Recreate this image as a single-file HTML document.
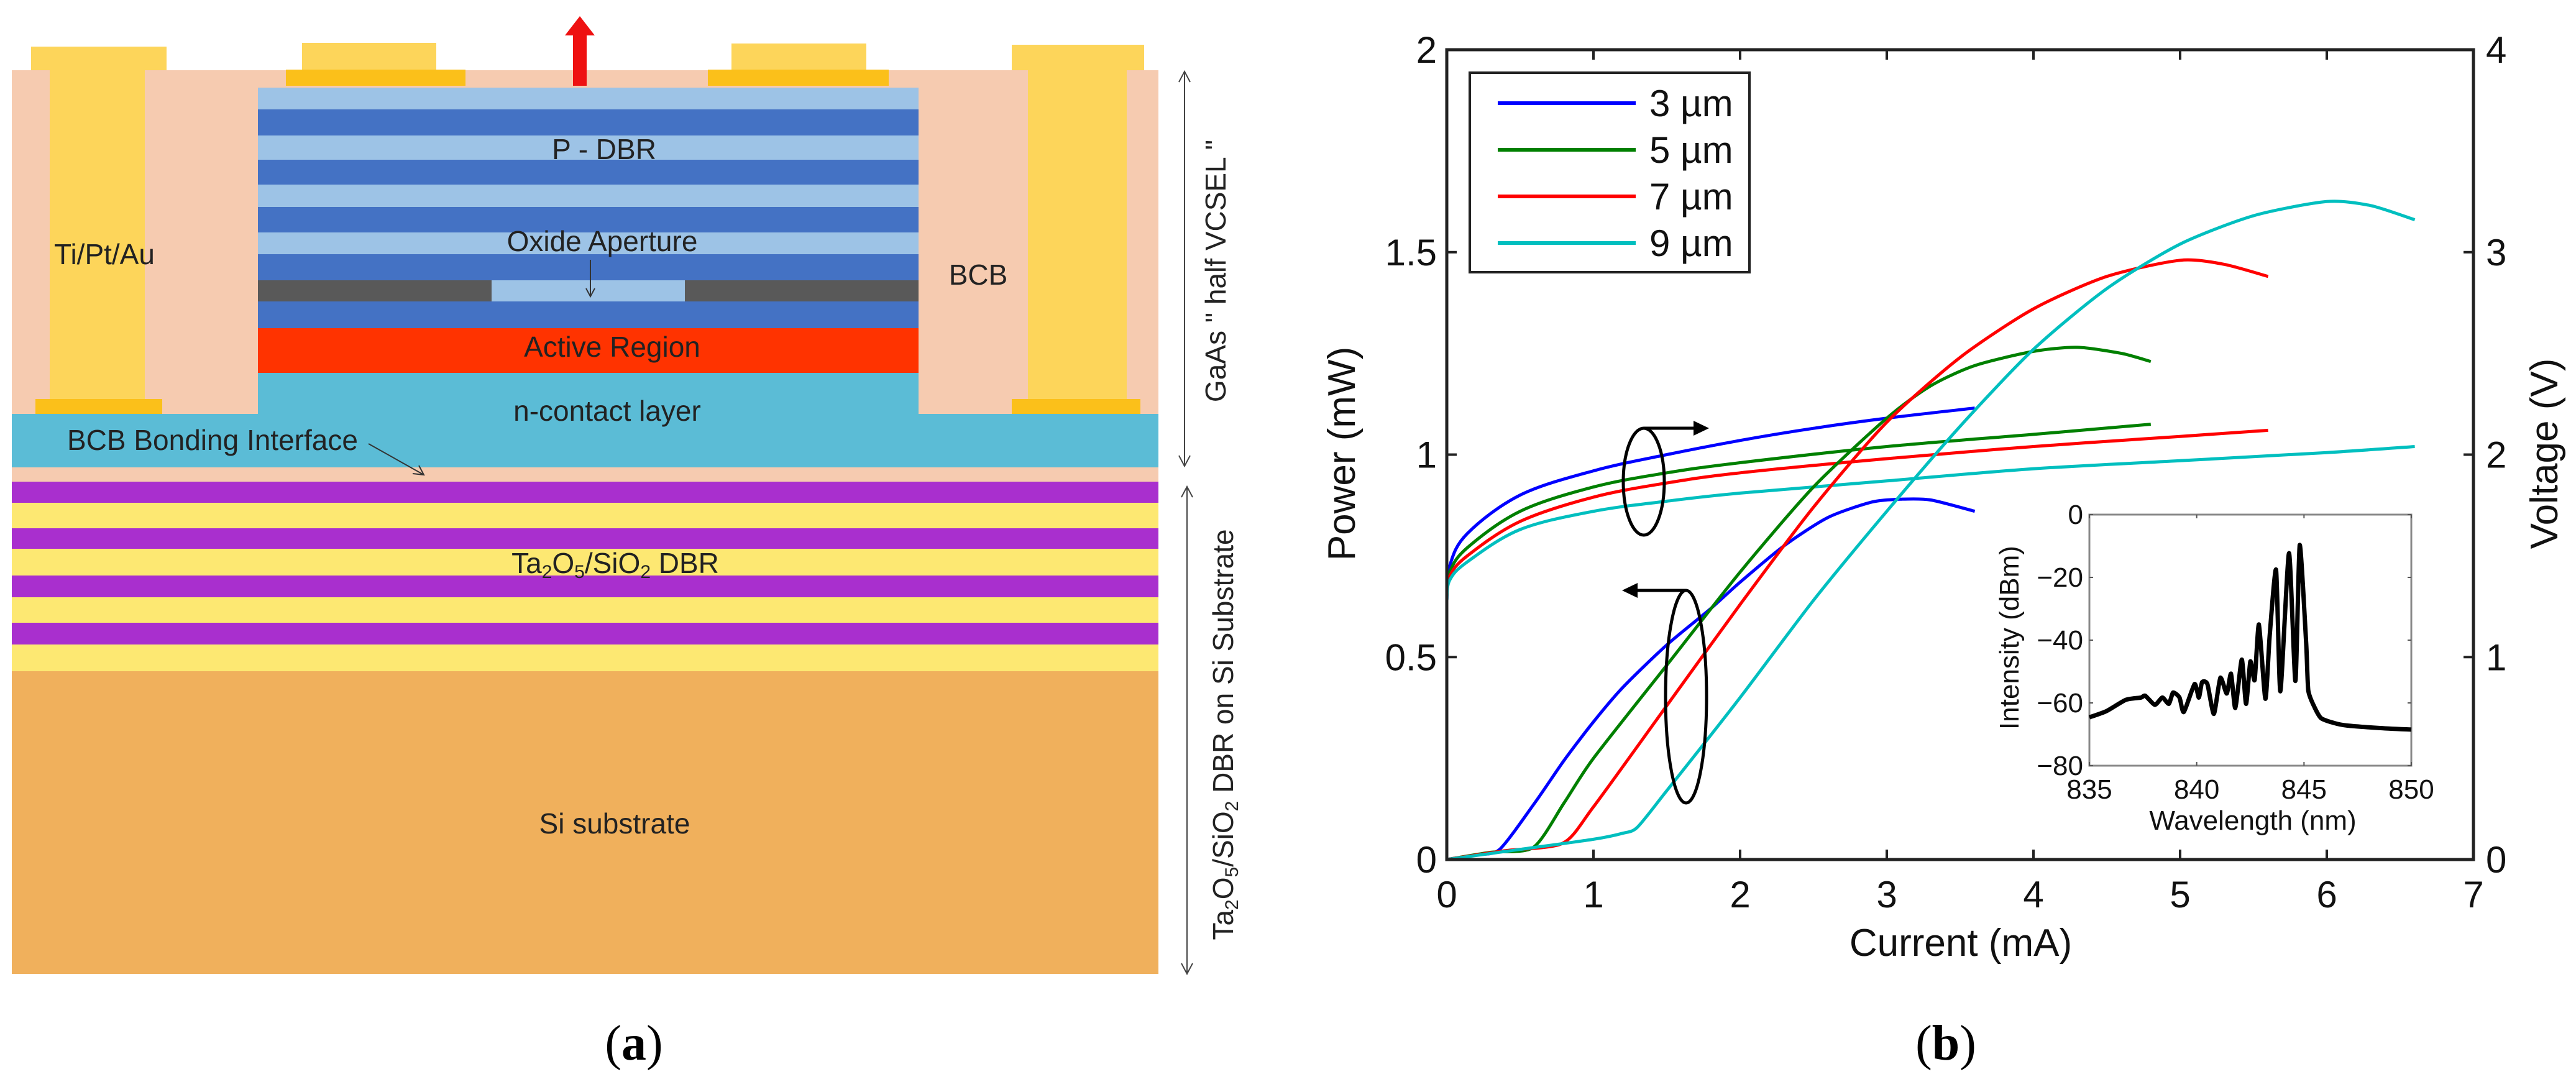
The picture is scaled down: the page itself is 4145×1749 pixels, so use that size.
<!DOCTYPE html>
<html><head><meta charset="utf-8"><style>
html,body{margin:0;padding:0;background:#fff;}
svg{display:block;font-family:"Liberation Sans",sans-serif;}
</style></head><body>
<svg id="root" width="4145" height="1749" viewBox="0 0 4145 1749">
<g id="diagram">
  <rect x="19" y="113" width="1845" height="639" fill="#f6cbb0"/>
  <rect x="80" y="113" width="153" height="529" fill="#fdd55a"/>
  <rect x="50" y="75" width="218" height="38" fill="#fdd55a"/>
  <rect x="57" y="642" width="204" height="24" fill="#fbc01a"/>
  <rect x="1654" y="113" width="159" height="529" fill="#fdd55a"/>
  <rect x="1628" y="72" width="213" height="41" fill="#fdd55a"/>
  <rect x="1628" y="642" width="207" height="26" fill="#fbc01a"/>
  <rect x="486" y="69" width="216" height="43" fill="#fdd55a"/>
  <rect x="460" y="112" width="289" height="26" fill="#fbc01a"/>
  <rect x="1177" y="70" width="217" height="42" fill="#fdd55a"/>
  <rect x="1139" y="112" width="291" height="26" fill="#fbc01a"/>
  <g>
    <rect x="415" y="141" width="1063" height="35" fill="#9dc3e6"/>
    <rect x="415" y="176" width="1063" height="42" fill="#4472c4"/>
    <rect x="415" y="218" width="1063" height="39" fill="#9dc3e6"/>
    <rect x="415" y="257" width="1063" height="40" fill="#4472c4"/>
    <rect x="415" y="297" width="1063" height="36" fill="#9dc3e6"/>
    <rect x="415" y="333" width="1063" height="41" fill="#4472c4"/>
    <rect x="415" y="374" width="1063" height="35" fill="#9dc3e6"/>
    <rect x="415" y="409" width="1063" height="42" fill="#4472c4"/>
    <rect x="415" y="451" width="1063" height="34" fill="#9dc3e6"/>
    <rect x="415" y="451" width="376" height="34" fill="#595959"/>
    <rect x="1102" y="451" width="376" height="34" fill="#595959"/>
    <rect x="415" y="485" width="1063" height="43" fill="#4472c4"/>
  </g>
  <rect x="415" y="528" width="1063" height="72" fill="#ff3300"/>
  <rect x="415" y="600" width="1063" height="66" fill="#5bbcd6"/>
  <rect x="19" y="666" width="1845" height="86" fill="#5bbcd6"/>
  <rect x="19" y="752" width="1845" height="23" fill="#f6cbb0"/>
  <g>
    <rect x="19" y="775" width="1845" height="34" fill="#a92fce"/>
    <rect x="19" y="809" width="1845" height="41" fill="#fde872"/>
    <rect x="19" y="850" width="1845" height="33" fill="#a92fce"/>
    <rect x="19" y="883" width="1845" height="43" fill="#fde872"/>
    <rect x="19" y="926" width="1845" height="35" fill="#a92fce"/>
    <rect x="19" y="961" width="1845" height="41" fill="#fde872"/>
    <rect x="19" y="1002" width="1845" height="35" fill="#a92fce"/>
    <rect x="19" y="1037" width="1845" height="43" fill="#fde872"/>
  </g>
  <rect x="19" y="1080" width="1845" height="487" fill="#f0b05c"/>
  <polygon points="922,138 944,138 944,57 957,57 933,26 909,57 922,57" fill="#ee1111"/>
  <g fill="#222" font-size="46" text-anchor="middle">
    <text x="168" y="425">Ti/Pt/Au</text>
    <text x="972" y="256">P - DBR</text>
    <text x="969" y="404">Oxide Aperture</text>
    <text x="985" y="574">Active Region</text>
    <text x="977" y="677">n-contact layer</text>
    <text x="1574" y="458">BCB</text>
    <text x="108" y="724" text-anchor="start">BCB Bonding Interface</text>
    <text x="990" y="922">Ta<tspan font-size="30" dy="8">2</tspan><tspan dy="-8">O</tspan><tspan font-size="30" dy="8">5</tspan><tspan dy="-8">/SiO</tspan><tspan font-size="30" dy="8">2</tspan><tspan dy="-8"> DBR</tspan></text>
    <text x="989" y="1341">Si substrate</text>
  </g>
  <line x1="950" y1="418" x2="950" y2="476" stroke="#333" stroke-width="2"/>
  <polyline points="943,464 950,477 957,464" fill="none" stroke="#333" stroke-width="2"/>
  <line x1="593" y1="714" x2="682" y2="764" stroke="#333" stroke-width="2"/>
  <polyline points="664,762 682,764 674,749" fill="none" stroke="#333" stroke-width="2"/>
  <g stroke="#444" stroke-width="2" fill="none">
    <line x1="1906" y1="115" x2="1906" y2="750"/>
    <polyline points="1897,132 1906,115 1915,132"/>
    <polyline points="1897,733 1906,750 1915,733"/>
    <line x1="1910" y1="783" x2="1910" y2="1567"/>
    <polyline points="1901,800 1910,783 1919,800"/>
    <polyline points="1901,1550 1910,1567 1919,1550"/>
  </g>
  <text transform="translate(1972,436) rotate(-90)" text-anchor="middle" font-size="46" fill="#222">GaAs " half VCSEL "</text>
  <text transform="translate(1984,1182) rotate(-90)" text-anchor="middle" font-size="46" fill="#222">Ta<tspan font-size="30" dy="8">2</tspan><tspan dy="-8">O</tspan><tspan font-size="30" dy="8">5</tspan><tspan dy="-8">/SiO</tspan><tspan font-size="30" dy="8">2</tspan><tspan dy="-8"> DBR on Si Substrate</tspan></text>
  <text x="1020" y="1705" text-anchor="middle" font-family="Liberation Serif,serif" font-size="80">(<tspan font-weight="bold">a</tspan>)</text>
</g>
<g id="chart"></g>
<text x="3131" y="1705" text-anchor="middle" font-family="Liberation Serif,serif" font-size="80">(<tspan font-weight="bold">b</tspan>)</text>
</svg>
<script>
// ---- data ----
const seriesNames = ["3 µm","5 µm","7 µm","9 µm"];
const seriesColors = ["#0000ff","#008000","#ff0000","#00bfbf"];
const xTicks = [0,1,2,3,4,5,6,7];
const yTicksLeft = [0,0.5,1,1.5,2];
const yTickLabelsLeft = ["0","0.5","1","1.5","2"];
const yTicksRight = [0,1,2,3,4];
const powerI3 = [0,0.2,0.36,0.6,0.8,1.0,1.2,1.5,1.8,2.0,2.3,2.6,2.9,3.1,3.3,3.6];
const powerP3 = [0,0.012,0.025,0.14,0.245,0.34,0.425,0.53,0.62,0.685,0.775,0.845,0.883,0.89,0.888,0.86];
const powerI5 = [0,0.3,0.59,0.8,1.0,1.5,2.0,2.5,3.0,3.3,3.6,4.0,4.3,4.6,4.8];
const powerP5 = [0,0.018,0.03,0.14,0.25,0.48,0.71,0.92,1.09,1.17,1.22,1.255,1.265,1.25,1.23];
const powerI7 = [0,0.4,0.79,1.0,1.5,2.0,2.5,3.0,3.5,4.0,4.5,5.0,5.3,5.6];
const powerP7 = [0,0.022,0.04,0.13,0.38,0.63,0.87,1.08,1.24,1.36,1.44,1.48,1.47,1.44];
const powerI9 = [0,0.5,1.0,1.2,1.3,1.5,2.0,2.5,3.0,3.5,4.0,4.5,5.0,5.5,6.0,6.3,6.6];
const powerP9 = [0,0.025,0.05,0.065,0.08,0.17,0.4,0.64,0.86,1.07,1.26,1.41,1.52,1.59,1.625,1.615,1.58];
const voltI3 = [0,0.02,0.14,0.5,1.0,1.5,2.0,2.5,3.0,3.6];
const voltV3 = [1.28,1.45,1.61,1.80,1.92,2.0,2.07,2.13,2.18,2.23];
const voltI5 = [0,0.02,0.14,0.5,1.0,1.5,2.0,3.0,4.0,4.8];
const voltV5 = [1.3,1.42,1.54,1.72,1.84,1.91,1.96,2.04,2.10,2.15];
const voltI7 = [0,0.02,0.14,0.5,1.0,1.5,2.0,3.0,4.0,5.0,5.6];
const voltV7 = [1.3,1.40,1.50,1.67,1.79,1.86,1.91,1.98,2.04,2.09,2.12];
const voltI9 = [0,0.02,0.14,0.5,1.0,1.5,2.0,3.0,4.0,5.0,6.0,6.6];
const voltV9 = [1.28,1.38,1.47,1.63,1.72,1.77,1.81,1.87,1.93,1.97,2.01,2.04];
const specWl = [835,835.8,836.7,837.4,837.6,838.05,838.4,838.7,838.9,839.2,839.4,839.9,840.1,840.25,840.5,840.8,841.1,841.4,841.6,841.8,842.1,842.3,842.5,842.7,842.9,843.2,843.4,843.7,843.9,844.3,844.6,844.8,845.1,845.2,845.5,845.8,846.4,847,848.5,850];
const specDbm = [-64.6,-62.6,-59,-58.3,-57.7,-60.6,-58.3,-60.3,-56.7,-58.3,-62.9,-54,-58.3,-53.4,-54,-63.5,-52,-57,-50.7,-61.6,-46.2,-60.3,-46.8,-52.7,-35,-58.7,-38.6,-17.6,-56.3,-12.3,-53,-9.7,-40.9,-56,-61.5,-64.9,-66.4,-67.2,-68,-68.5];
const insetXTicks = [835,840,845,850];
const insetYTicks = [0,-20,-40,-60,-80];

const NS = "http://www.w3.org/2000/svg";
const chart = document.getElementById('chart');
function mk(tag, attrs, parent){ const e=document.createElementNS(NS,tag); for(const k in attrs) e.setAttribute(k,attrs[k]); (parent||chart).appendChild(e); return e; }

const L=2328,R=3980,T=80,B=1383;
const sx = v => L + v/7*(R-L);
const syL = v => B - v/2*(B-T);
const syR = v => B - v/4*(B-T);

const powerI=[powerI3,powerI5,powerI7,powerI9], powerP=[powerP3,powerP5,powerP7,powerP9];
const voltI=[voltI3,voltI5,voltI7,voltI9], voltV=[voltV3,voltV5,voltV7,voltV9];
function smoothPath(xs, ys, k){
  const pts = xs.map((x,i)=>[x,ys[i]]);
  let d = "M"+pts[0][0].toFixed(1)+","+pts[0][1].toFixed(1);
  for(let i=0;i<pts.length-1;i++){
    const p0=pts[Math.max(0,i-1)],p1=pts[i],p2=pts[i+1],p3=pts[Math.min(pts.length-1,i+2)];
    const c1=[p1[0]+(p2[0]-p0[0])*k,p1[1]+(p2[1]-p0[1])*k], c2=[p2[0]-(p3[0]-p1[0])*k,p2[1]-(p3[1]-p1[1])*k];
    d+=" C"+c1[0].toFixed(1)+","+c1[1].toFixed(1)+" "+c2[0].toFixed(1)+","+c2[1].toFixed(1)+" "+p2[0].toFixed(1)+","+p2[1].toFixed(1);
  }
  return d;
}
for(let s=0;s<4;s++){
  const pv = mk('path',{d:smoothPath(voltI[s].map(sx),voltV[s].map(syR),1/6),fill:'none',stroke:seriesColors[s],'stroke-width':5});
  
  
}
for(let s=0;s<4;s++){
  const pp = mk('path',{d:smoothPath(powerI[s].map(sx),powerP[s].map(syL),1/8),fill:'none',stroke:seriesColors[s],'stroke-width':5,'stroke-linejoin':'round'});
  
  
}
const box = mk('rect',{x:L,y:T,width:R-L,height:B-T,fill:'none',stroke:'#222','stroke-width':5});


xTicks.forEach(v=>{
  mk('line',{x1:sx(v),x2:sx(v),y1:B,y2:B-16,stroke:'#222','stroke-width':4});
  mk('line',{x1:sx(v),x2:sx(v),y1:T,y2:T+16,stroke:'#222','stroke-width':4});
  const t=mk('text',{x:sx(v),y:1460,'text-anchor':'middle','font-size':60,fill:'#111'}); t.textContent=v;
  
  
});
yTicksLeft.forEach((v,i)=>{
  mk('line',{x1:L,x2:L+16,y1:syL(v),y2:syL(v),stroke:'#222','stroke-width':4});
  const t=mk('text',{x:2312,y:syL(v)+21,'text-anchor':'end','font-size':60,fill:'#111'}); t.textContent=yTickLabelsLeft[i];
  
  
});
yTicksRight.forEach(v=>{
  mk('line',{x1:R,x2:R-16,y1:syR(v),y2:syR(v),stroke:'#222','stroke-width':4});
  const t=mk('text',{x:4000,y:syR(v)+21,'text-anchor':'start','font-size':60,fill:'#111'}); t.textContent=v;
  
  
});
const xt=mk('text',{x:3155,y:1538,'text-anchor':'middle','font-size':62,fill:'#111'}); xt.textContent='Current (mA)';


const yl=mk('text',{transform:'translate(2180,730) rotate(-90)','text-anchor':'middle','font-size':62,fill:'#111'}); yl.textContent='Power (mW)';


const yr=mk('text',{transform:'translate(4115,730) rotate(-90)','text-anchor':'middle','font-size':62,fill:'#111'}); yr.textContent='Voltage (V)';



const lg=mk('rect',{x:2365,y:117,width:450,height:321,fill:'#fff',stroke:'#222','stroke-width':4});


seriesNames.forEach((n,i)=>{
  const y=166+i*75;
  const ln=mk('line',{x1:2410,x2:2632,y1:y,y2:y,stroke:seriesColors[i],'stroke-width':6});
  
  
  const t=mk('text',{x:2654,y:y+21,'font-size':60,fill:'#111'}); t.textContent=n;
  
  
});

const e1=mk('ellipse',{cx:2645,cy:775,rx:33,ry:86,fill:'none',stroke:'#000','stroke-width':5});


mk('line',{x1:2645,y1:689,x2:2730,y2:689,stroke:'#000','stroke-width':5});
mk('polygon',{points:'2750,689 2725,677 2725,701',fill:'#000'});
const e2=mk('ellipse',{cx:2713,cy:1121,rx:33,ry:171,fill:'none',stroke:'#000','stroke-width':5});


mk('line',{x1:2713,y1:950,x2:2630,y2:950,stroke:'#000','stroke-width':5});
mk('polygon',{points:'2610,950 2635,938 2635,962',fill:'#000'});

const iL=3362,iR=3880,iT=828,iB=1232;
const ix = v => iL + (v-835)/15*(iR-iL);
const iy = v => iT + (0-v)/80*(iB-iT);
const ib=mk('rect',{x:iL,y:iT,width:iR-iL,height:iB-iT,fill:'#fff',stroke:'#888','stroke-width':3});


insetXTicks.forEach(v=>{
  mk('line',{x1:ix(v),x2:ix(v),y1:iB,y2:iB-6,stroke:'#555','stroke-width':2});
  mk('line',{x1:ix(v),x2:ix(v),y1:iT,y2:iT+6,stroke:'#555','stroke-width':2});
  const t=mk('text',{x:ix(v),y:1285,'text-anchor':'middle','font-size':44,fill:'#111'}); t.textContent=v;
  
  
});
insetYTicks.forEach(v=>{
  mk('line',{x1:iL,x2:iL+6,y1:iy(v),y2:iy(v),stroke:'#555','stroke-width':2});
  mk('line',{x1:iR,x2:iR-6,y1:iy(v),y2:iy(v),stroke:'#555','stroke-width':2});
  const t=mk('text',{x:3352,y:iy(v)+15,'text-anchor':'end','font-size':44,fill:'#111'}); t.textContent=(v<0?'\u2212'+(-v):v);
  
  
});
const sp=mk('path',{d:smoothPath(specWl.map(ix),specDbm.map(iy),1/10),fill:'none',stroke:'#000','stroke-width':7,'stroke-linejoin':'round'});


const ixt=mk('text',{x:3625,y:1335,'text-anchor':'middle','font-size':44,fill:'#111'}); ixt.textContent='Wavelength (nm)';


const iyt=mk('text',{transform:'translate(3248,1026) rotate(-90)','text-anchor':'middle','font-size':44,fill:'#111'}); iyt.textContent='Intensity (dBm)';


</script>
</body></html>
